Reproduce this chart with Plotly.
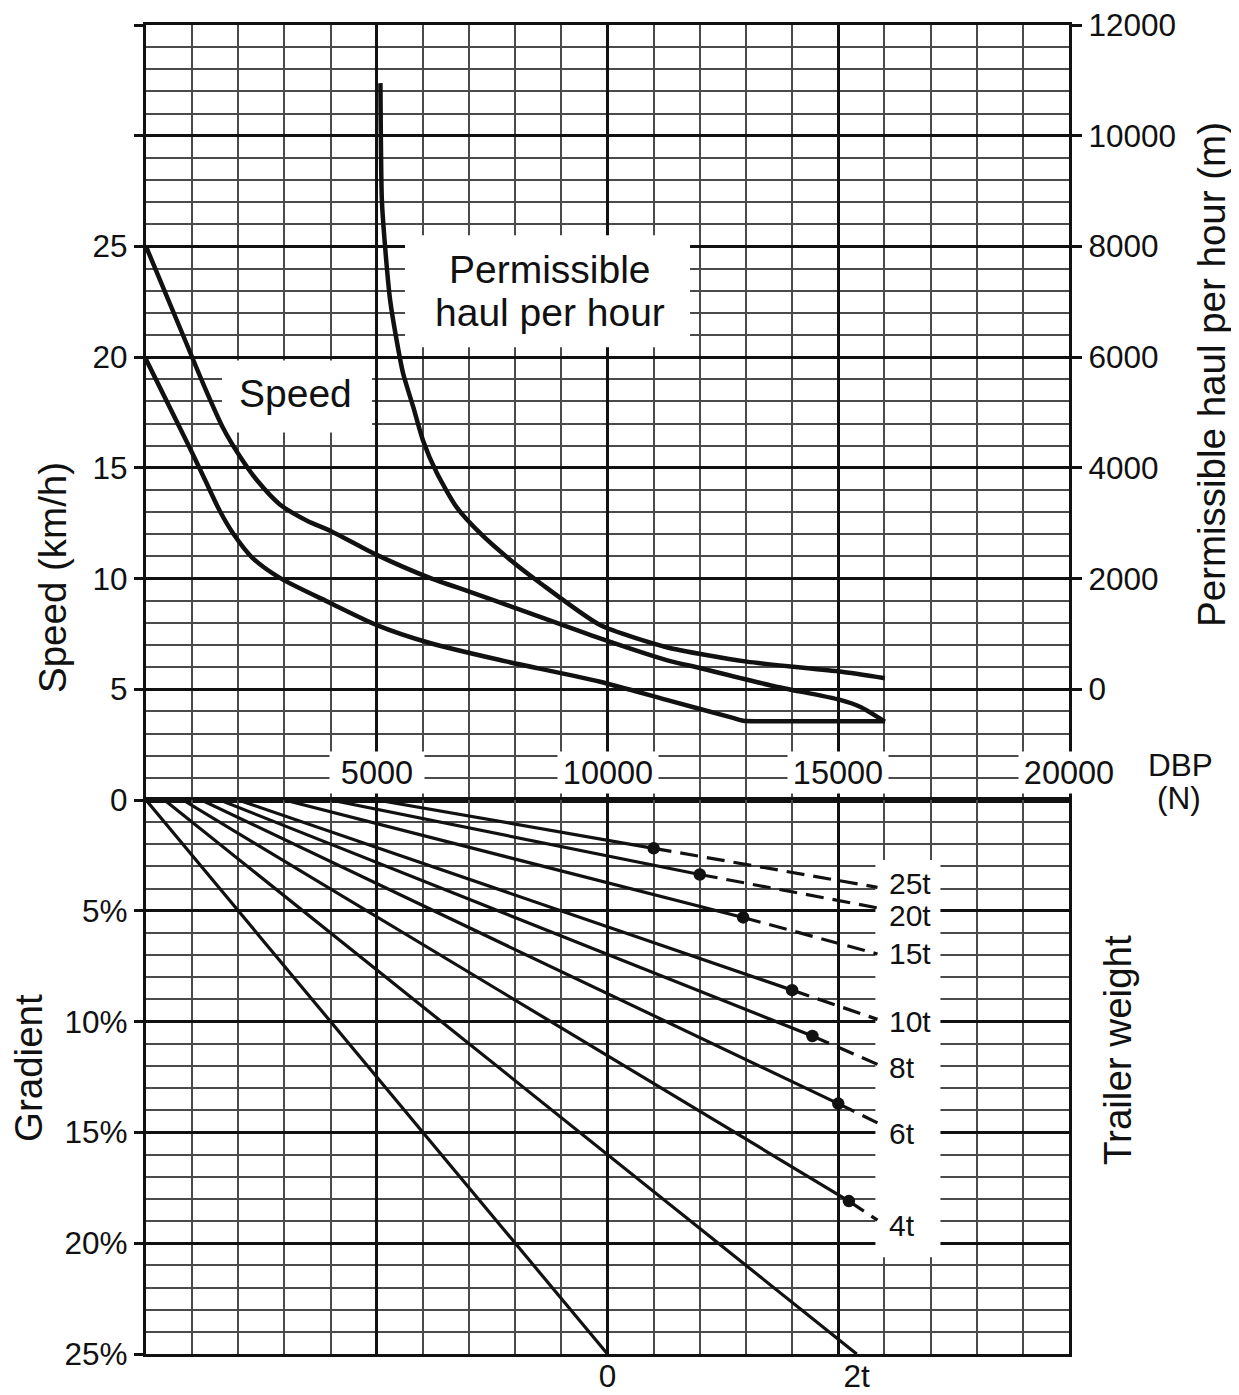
import plotly.graph_objects as go

# ---------------- data ----------------
dbp_ticks = [5000, 10000, 15000, 20000]
speed_tickvals = [0, 5, 10, 15, 20, 25, 30, 35]
speed_ticktext = ["", "5", "10", "15", "20", "25", "", ""]
haul_ticks = [0, 2000, 4000, 6000, 8000, 10000, 12000]
gradient_ticks = [0, 5, 10, 15, 20, 25]
gradient_ticktext = ["0", "5%", "10%", "15%", "20%", "25%"]

# Speed curve starting at 25 km/h
speed_hi_dbp = [0, 800, 1300, 1670, 2040, 2400, 2900, 3500, 4000, 5000, 6150, 7020,
                8100, 9840, 11280, 12000, 13590, 15040, 15470, 16010]
speed_hi = [25.0, 21.0, 18.5, 16.8, 15.5, 14.45, 13.35, 12.6, 12.15, 11.07, 10.03, 9.4,
            8.6, 7.3, 6.32, 5.96, 5.15, 4.52, 4.21, 3.54]

# Speed curve starting at 20 km/h
speed_lo_dbp = [0, 950, 1280, 1600, 1900, 2300, 2900, 3990, 5000, 6150, 7670, 9840,
                11280, 12700, 12940, 13300, 16010]
speed_lo = [19.9, 15.9, 14.45, 13.05, 12.0, 10.95, 10.03, 8.9, 7.9, 7.09, 6.32, 5.34,
            4.52, 3.72, 3.58, 3.56, 3.56]

# Permissible haul per hour (m)
haul_dbp = [5080, 5110, 5180, 5290, 5430, 5570, 5790, 6000, 6300, 6730, 7240, 7890,
            8540, 9840, 11280, 13020, 15040, 16010]
haul_m = [10950, 8850, 8000, 7030, 6310, 5710, 5100, 4500, 3910, 3290, 2820, 2340,
          1920, 1160, 760, 500, 320, 200]

# Gradient lines per trailer weight
weights = ["0t", "2t", "4t", "6t", "8t", "10t", "15t", "20t", "25t"]
grad_start_dbp = [0, 400, 800, 1200, 1600, 2000, 3000, 4000, 5000]
grad_end_dbp = [10000, 15400, 15230, 15000, 14440, 14000, 12940, 12000, 11000]
grad_end_pct = [25, 25, 18.1, 13.7, 10.65, 8.58, 5.3, 3.36, 2.18]

# dashed extensions of the labelled lines (4t ... 25t)
dash_end_dbp = [15850, 15850, 15850, 15850, 15850, 15850, 15850]
dash_end_pct = [18.96, 14.57, 11.93, 9.9, 6.95, 4.87, 3.94]
label_pct = [19.19, 15.03, 12.05, 9.98, 6.91, 5.2, 3.78]

# ---------------- figure ----------------
# the page body adds an 8 px margin, so the figure is 8 px smaller and shifted
W, H = 1231, 1387
ML, MR, MT, MB = 138, 170, 17, 41
PW, PH = W - ML - MR, H - MT - MB
split = 554 / PH
FONT = "Liberation Sans, Arial, Helvetica, sans-serif"
BLACK = "#111111"
MINOR = "#4a4a4a"
OFF = 8


def px(xp):
    return (xp - OFF - ML) / PW


def py(yp):
    return (H - MB - (yp - OFF)) / PH


fig = go.Figure()

fig.add_trace(go.Scatter(x=speed_hi_dbp, y=speed_hi, mode="lines",
                         line=dict(color=BLACK, width=4.5, shape="spline", smoothing=0.7),
                         xaxis="x", yaxis="y", hoverinfo="skip", showlegend=False))
fig.add_trace(go.Scatter(x=speed_lo_dbp, y=speed_lo, mode="lines",
                         line=dict(color=BLACK, width=4.5, shape="spline", smoothing=0.7),
                         xaxis="x", yaxis="y", hoverinfo="skip", showlegend=False))
fig.add_trace(go.Scatter(x=haul_dbp, y=haul_m, mode="lines",
                         line=dict(color=BLACK, width=4.5, shape="spline", smoothing=0.6),
                         xaxis="x", yaxis="y3", hoverinfo="skip", showlegend=False))

# solid gradient lines
for s, e, g in zip(grad_start_dbp, grad_end_dbp, grad_end_pct):
    fig.add_trace(go.Scatter(x=[s, e], y=[0, g], mode="lines",
                             line=dict(color=BLACK, width=3.2),
                             xaxis="x2", yaxis="y2", hoverinfo="skip", showlegend=False))

lab_idx = list(range(2, len(weights)))
for k, i in enumerate(lab_idx):
    fig.add_trace(go.Scatter(x=[grad_end_dbp[i], dash_end_dbp[k]],
                             y=[grad_end_pct[i], dash_end_pct[k]], mode="lines",
                             line=dict(color=BLACK, width=3.2, dash="18px,9px"),
                             xaxis="x2", yaxis="y2", hoverinfo="skip", showlegend=False))
fig.add_trace(go.Scatter(x=[grad_end_dbp[i] for i in lab_idx],
                         y=[grad_end_pct[i] for i in lab_idx], mode="markers",
                         marker=dict(color=BLACK, size=12.5),
                         xaxis="x2", yaxis="y2", hoverinfo="skip", showlegend=False))

# bottom trailer weight labels (0 and 2t) on an overlaying axis
fig.add_trace(go.Scatter(x=grad_end_dbp[:2], y=grad_end_pct[:2], mode="markers",
                         marker=dict(opacity=0), xaxis="x3", yaxis="y2",
                         hoverinfo="skip", showlegend=False))

grid_major = dict(showgrid=True, gridcolor=BLACK, gridwidth=3.2)
tickfont = dict(family=FONT, size=31.5, color=BLACK)
minor_grid = dict(showgrid=True, gridcolor=MINOR, gridwidth=1.5)

xcommon = dict(range=[0, 20000], tickvals=[0, 5000, 10000, 15000, 20000],
               showticklabels=False, ticks="", zeroline=False, automargin=False,
               minor=dict(dtick=1000, tick0=0, **minor_grid),
               showline=True, mirror=True, linecolor=BLACK, linewidth=3.2, **grid_major)

fig.update_layout(
    width=W, height=H,
    margin=dict(l=ML, r=MR, t=MT, b=MB, pad=0, autoexpand=False),
    paper_bgcolor="white", plot_bgcolor="white",
    font=dict(family=FONT, color=BLACK),
    xaxis=dict(domain=[0, 1], anchor="y", **xcommon),
    xaxis2=dict(domain=[0, 1], anchor="y2", **xcommon),
    xaxis3=dict(overlaying="x2", anchor="y2", side="bottom", range=[0, 20000],
                tickvals=grad_end_dbp[:2], ticktext=["0", "2t"], ticks="",
                showgrid=False, zeroline=False, showline=False, tickfont=tickfont,
                automargin=False, ticklabeloverflow="allow"),
    yaxis=dict(domain=[split, 1], anchor="x", range=[0, 35],
               tickvals=speed_tickvals, ticktext=speed_ticktext,
               ticks="outside", ticklen=9, tickwidth=3, tickcolor=BLACK, tickfont=tickfont,
               zeroline=False, showline=True, linecolor=BLACK, linewidth=3.2,
               automargin=False, minor=dict(dtick=1, tick0=0, **minor_grid),
               **grid_major),
    yaxis3=dict(overlaying="y", side="right", anchor="x", range=[-2000, 12000],
                tickvals=haul_ticks, ticktext=[str(v) for v in haul_ticks],
                ticks="outside", ticklen=10, tickwidth=3, ticklabeloverflow="allow",
                tickcolor=BLACK, tickfont=tickfont, showgrid=False, zeroline=False,
                showline=True, linecolor=BLACK, linewidth=3.2, automargin=False),
    yaxis2=dict(domain=[0, split], anchor="x2", range=[25, 0],
                tickvals=gradient_ticks, ticktext=gradient_ticktext,
                ticks="outside", ticklen=9, tickwidth=3, tickcolor=BLACK, tickfont=tickfont,
                zeroline=False, showline=True, mirror=True, linecolor=BLACK, linewidth=3.2,
                automargin=False, minor=dict(dtick=1, tick0=0, **minor_grid),
                **grid_major),
)

# white boxes behind text (between grid and traces)
fig.add_shape(type="rect", xref="x", yref="y", x0=1647, x1=4897, y0=16.6, y1=19.85,
              fillcolor="white", line=dict(width=0), layer="between")
fig.add_shape(type="rect", xref="x", yref="y", x0=5612, x1=11788, y0=20.45, y1=25.5,
              fillcolor="white", line=dict(width=0), layer="between")
fig.add_shape(type="rect", xref="x2", yref="y2", x0=15805, x1=17214, y0=2.71, y1=20.63,
              fillcolor="white", line=dict(width=0), layer="between")

C = dict(xanchor="center", yanchor="middle", showarrow=False)
ann = []
for v in dbp_ticks:
    ann.append(dict(x=v, y=1.26, xref="x", yref="y", text=str(v),
                    bgcolor="white", borderpad=0, width=100 if v >= 10000 else 94, height=41,
                    font=dict(family=FONT, size=32.5, color=BLACK), **C))
ann.append(dict(x=px(1180), y=py(765), xref="paper", yref="paper", text="DBP",
                font=dict(family=FONT, size=31.5, color=BLACK), **C))
ann.append(dict(x=px(1179), y=py(798), xref="paper", yref="paper", text="(N)",
                font=dict(family=FONT, size=31.5, color=BLACK), **C))
ann.append(dict(x=3229, y=18.38, xref="x", yref="y", text="Speed",
                font=dict(family=FONT, size=39, color=BLACK), **C))
ann.append(dict(x=8754, y=23.94, xref="x", yref="y", text="Permissible",
                font=dict(family=FONT, size=39, color=BLACK), **C))
ann.append(dict(x=8754, y=22.0, xref="x", yref="y", text="haul per hour",
                font=dict(family=FONT, size=39, color=BLACK), **C))
for k, i in enumerate(lab_idx):
    ann.append(dict(x=16050, y=label_pct[k], xref="x2", yref="y2", text=weights[i],
                    xanchor="left", yanchor="middle", showarrow=False,
                    font=dict(family=FONT, size=30, color=BLACK)))
# axis titles
ann.append(dict(x=px(52), y=py(578), xref="paper", yref="paper", text="Speed (km/h)",
                textangle=-90, font=dict(family=FONT, size=38.5, color=BLACK), **C))
ann.append(dict(x=px(28), y=py(1068), xref="paper", yref="paper", text="Gradient",
                textangle=-90, font=dict(family=FONT, size=38.5, color=BLACK), **C))
ann.append(dict(x=px(1212), y=py(375), xref="paper", yref="paper",
                text="Permissible haul per hour (m)", textangle=-90,
                font=dict(family=FONT, size=38.5, color=BLACK), **C))
ann.append(dict(x=px(1117), y=py(1050), xref="paper", yref="paper", text="Trailer weight",
                textangle=-90, font=dict(family=FONT, size=38.5, color=BLACK), **C))
fig.update_layout(annotations=ann)

fig.write_html("out.html")
